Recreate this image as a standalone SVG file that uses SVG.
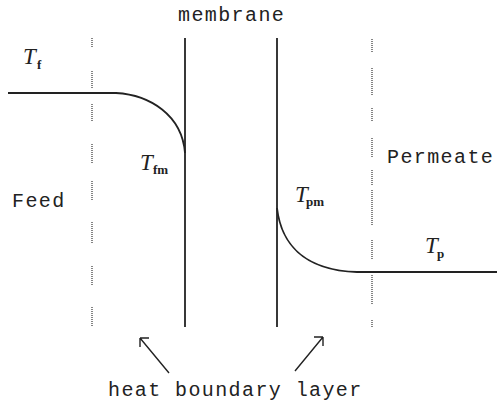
<svg xmlns="http://www.w3.org/2000/svg" width="497" height="405" viewBox="0 0 497 405">
<style>
.mono{font-family:"Liberation Mono","DejaVu Sans Mono",monospace;font-size:20px;letter-spacing:1.4px;fill:#222}
.T{font-family:"Liberation Serif","Times New Roman",serif;font-style:italic;font-size:23px;fill:#222}
.sub{font-family:"Liberation Serif","Times New Roman",serif;font-weight:bold;font-size:13px;fill:#222}
.solid{stroke:#222;stroke-width:1.8;fill:none}
.dot{stroke:#444;stroke-width:1.3;stroke-dasharray:1 1;fill:none}
.arr{stroke:#222;stroke-width:1.4;fill:none}
</style>
<rect width="497" height="405" fill="#fff"/>
<g id="boundaries">
<path class="dot" d="M92,38V48 M92,71V88 M92,104V122 M92,144V163 M92,181V200 M92,222V243 M92,266V285 M92,307V326"/>
<path class="dot" d="M372,39V53 M372,68V95 M372,108V122 M372,138V157 M372,170V185 M372,190V225 M372,240V260 M372,275V305 M372,320V327"/>
</g>
<g id="membrane">
<line class="solid" x1="185" y1="38" x2="185" y2="327"/>
<line class="solid" x1="277" y1="38" x2="277" y2="327"/>
<text class="mono" x="178" y="21">membrane</text>
</g>
<g id="connectors">
<path class="solid" d="M8,93H116 C150,95 182,115 185,153"/>
<path class="solid" d="M277,208 C281,242 302,270 357,272 H497"/>
<path class="arr" d="M169,373 L140,338 M140,338 H149 M140,338 V347"/>
<path class="arr" d="M295,371 L323,337 M323,337 H314 M323,337 V346"/>
</g>
<g id="feed"><text class="mono" x="12" y="207">Feed</text></g>
<g id="permeate"><text class="mono" x="387" y="163">Permeate</text></g>
<g id="Tf"><text class="T" x="23" y="64">T</text><text class="sub" x="37" y="69">f</text></g>
<g id="Tfm"><text class="T" x="140" y="170">T</text><text class="sub" x="153" y="174">fm</text></g>
<g id="Tpm"><text class="T" x="295" y="202">T</text><text class="sub" x="306" y="206">pm</text></g>
<g id="Tp"><text class="T" x="425" y="253">T</text><text class="sub" x="437" y="258">p</text></g>
<g id="label"><text class="mono" x="108" y="396">heat boundary layer</text></g>
</svg>
